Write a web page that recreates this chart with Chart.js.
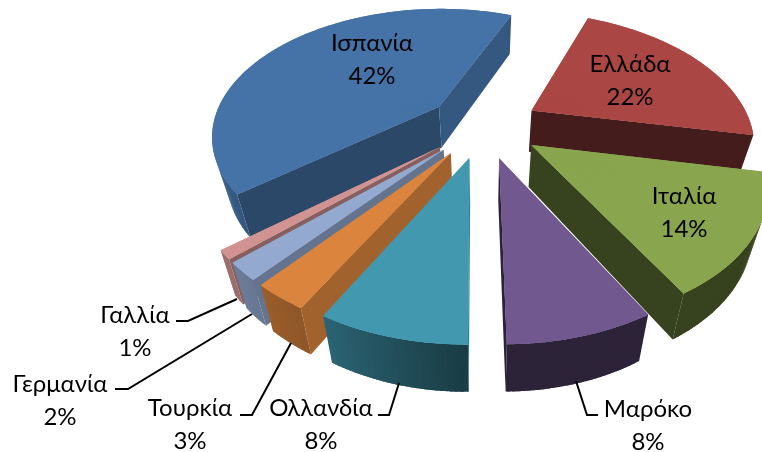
<!DOCTYPE html>
<html><head><meta charset="utf-8">
<style>html,body{margin:0;padding:0;background:#fff}canvas{display:block}</style>
<script src="https://cdn.jsdelivr.net/npm/chart.js@4"></script>
</head><body><canvas id="c" width="762" height="452"></canvas>
<script>
const categories = ['Ελλάδα','Ιταλία','Μαρόκο','Ολλανδία','Τουρκία','Γερμανία','Γαλλία','Ισπανία'];
const shares = [22,14,8,8,3,2,1,42];
const colours = ['#AA4643','#89A54E','#71588F','#4198AF','#DB843D','#93A9CF','#D19392','#4573A7'];

// view of the pie: a perspective projection of the ground plane
const view = {cx:483.70, cy:125.24, a:223.58, b:126.95, p:0.2241, q:-0.0077, sx:-1.20, sy:2.99,
  explode:0.2526, rotation:20.74, botScale:0.945, botDy:38.8, botGrow:0.026, botRef:17};
// label anchors and leader lines (page layout, not data)
const labelAt = [[630,64],[684,196],[648,409],[321,408],[190,408],[60,384],[135,315],[372,43]];
const leaders = [null,null,
  [[598,415],[587,415],[576,381]],
  [[378,415],[389,415],[399,383]],
  [[240,415],[252,415],[291,343]],
  [[115,389],[128,389],[252,314]],
  [[176,321],[188,321],[237,299]],null];
const labelFont = '24px Lato, "Open Sans", sans-serif';
const lineGap = 33;

const rimShade = [[0,.4],[180,.4],[207,.65],[250,.85],[300,.85],[360,.6]];
const cutShade = [[0,.85],[88,.85],[110,.77],[118,.74],[139,.63],[189,.4],[360,.4]];
function lerpStops(t,stops){t=((t%360)+360)%360;for(let i=1;i<stops.length;i++){if(t<=stops[i][0]){const a=stops[i-1],b=stops[i];return a[1]+(b[1]-a[1])*(t-a[0])/(b[0]-a[0]);}}return stops[stops.length-1][1];}
function shade(hex,f){const n=parseInt(hex.slice(1),16);return `rgb(${Math.round((n>>16&255)*f)},${Math.round((n>>8&255)*f)},${Math.round((n&255)*f)})`;}
function project(u,v,bottom){const w=1-view.p*v-view.q*u;
  const X=view.cx+(view.a*u+view.sx*v)/w, Y=view.cy+(view.b*v+view.sy*u)/w;
  return bottom?[view.cx+(X-view.cx)*view.botScale, Y+view.botDy+view.botGrow*(Y-view.botRef)]:[X,Y];}
function poly(ctx,pts,col){ctx.beginPath();pts.forEach((p,i)=>i?ctx.lineTo(p[0],p[1]):ctx.moveTo(p[0],p[1]));ctx.closePath();ctx.fillStyle=col;ctx.fill();}
function turn(a,b,c){return (b[0]-a[0])*(c[1]-b[1])-(b[1]-a[1])*(c[0]-b[0]);}

const pie3d = {id:'pie3d',
  beforeDatasetsDraw(chart){
    const ctx=chart.ctx, arcs=chart.getDatasetMeta(0).data;
    const order=arcs.map(el=>{const m=(el.startAngle+el.endAngle)/2;return{el,m,depth:Math.sin(m)};}).sort((p,q)=>p.depth-q.depth);
    for(const {el,m} of order){
      const col=el.options.backgroundColor, s0=el.startAngle, e0=el.endAngle;
      const ox=view.explode*Math.cos(m), oy=view.explode*Math.sin(m);
      const pt=(phi,bot)=>project(ox+Math.cos(phi),oy+Math.sin(phi),bot);
      const apex=bot=>project(ox,oy,bot);
      const deg=phi=>(phi+Math.PI/2)*180/Math.PI;
      // cut faces, only where they face the viewer
      if(turn(apex(false),pt(s0,false),pt(s0,true))<0)
        poly(ctx,[apex(false),pt(s0,false),pt(s0,true),apex(true)],shade(col,lerpStops(deg(s0)-90,cutShade)));
      if(turn(apex(false),pt(e0,false),pt(e0,true))>0)
        poly(ctx,[apex(false),pt(e0,false),pt(e0,true),apex(true)],shade(col,lerpStops(deg(e0)+90,cutShade)));
      // rim wall, only where it faces the viewer
      const n=Math.max(2,Math.ceil((e0-s0)/(Math.PI/180))), step=(e0-s0)/n;
      for(let j=0;j<n;j++){const a1=s0+step*j,a2=Math.min(e0,a1+step*1.8);
        if(turn(pt(a1,false),pt(a1+step,false),pt(a1+step,true))<0)
          poly(ctx,[pt(a1,false),pt(a2,false),pt(a2,true),pt(a1,true)],shade(col,lerpStops(deg(a1+step/2),rimShade)));}
      // top face: underlay, then the library's own arc drawn wedge by wedge through the perspective
      const under=[apex(false)];for(let j=0;j<=n;j++)under.push(pt(s0+step*j,false));
      poly(ctx,under,col);
      const saved={startAngle:el.startAngle,endAngle:el.endAngle,circumference:el.circumference};
      const k=Math.max(1,Math.ceil((e0-s0)/(Math.PI/30))), R=el.outerRadius;
      for(let j=0;j<k;j++){
        const a1=s0+(e0-s0)*j/k, a2=s0+(e0-s0)*(j+1)/k;
        const L1=[R*Math.cos(a1),R*Math.sin(a1)], L2=[R*Math.cos(a2),R*Math.sin(a2)];
        const S0=apex(false),S1=pt(a1,false),S2=pt(a2,false);
        const d=L1[0]*L2[1]-L2[0]*L1[1];
        const p1=[S1[0]-S0[0],S1[1]-S0[1]],p2=[S2[0]-S0[0],S2[1]-S0[1]];
        const A=(p1[0]*L2[1]-p2[0]*L1[1])/d, C=(p2[0]*L1[0]-p1[0]*L2[0])/d;
        const B=(p1[1]*L2[1]-p2[1]*L1[1])/d, D=(p2[1]*L1[0]-p1[1]*L2[0])/d;
        ctx.save();
        ctx.transform(A,B,C,D,S0[0]-A*el.x-C*el.y,S0[1]-B*el.x-D*el.y);
        el.startAngle=a1;el.endAngle=a2;el.circumference=a2-a1;
        el.draw(ctx);
        ctx.restore();
      }
      Object.assign(el,saved);
    }
    return false;
  },
  afterDraw(chart){
    const ctx=chart.ctx;ctx.save();
    ctx.strokeStyle='#000';ctx.lineWidth=2;ctx.lineJoin='miter';
    leaders.forEach(l=>{if(!l)return;ctx.beginPath();l.forEach((p,i)=>i?ctx.lineTo(p[0],p[1]):ctx.moveTo(p[0],p[1]));ctx.stroke();});
    ctx.fillStyle='#000';ctx.font=labelFont;ctx.textAlign='center';ctx.textBaseline='middle';
    categories.forEach((name,i)=>{const[x,y]=labelAt[i];ctx.fillText(name,x,y);ctx.fillText(shares[i]+'%',x,y+lineGap);});
    ctx.restore();
  }};

new Chart(document.getElementById('c'),{type:'pie',
  data:{labels:categories,datasets:[{data:shares,backgroundColor:colours,borderWidth:0}]},
  options:{responsive:false,animation:false,rotation:view.rotation,
    plugins:{legend:{display:false},tooltip:{enabled:false}}},
  plugins:[pie3d]});
</script></body></html>
